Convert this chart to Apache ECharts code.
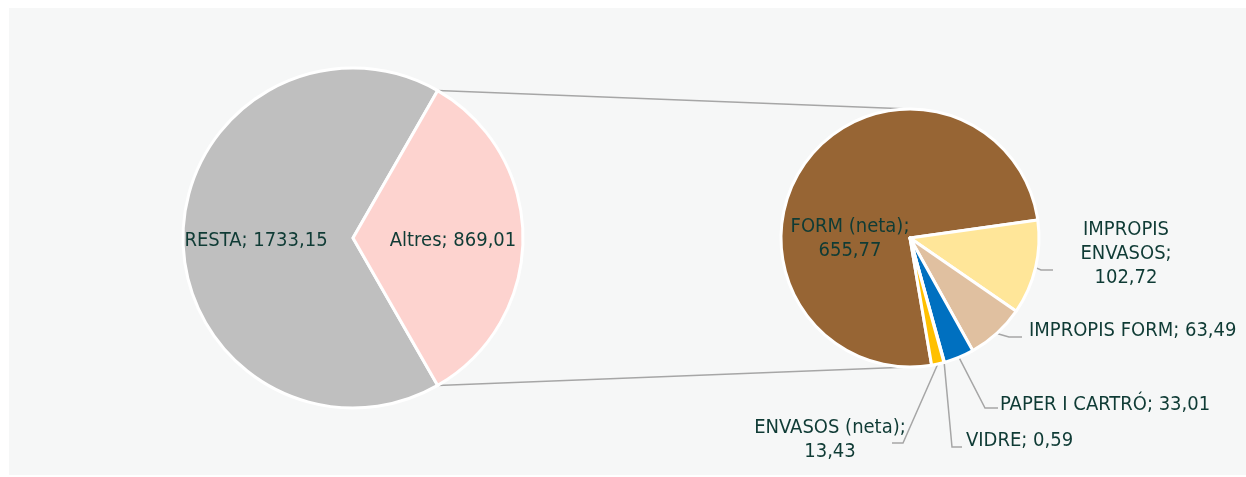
<!DOCTYPE html>
<html>
<head>
<meta charset="utf-8">
<script src="https://cdn.jsdelivr.net/npm/echarts@6/dist/echarts.min.js"></script>
<style>
  html, body { margin: 0; padding: 0; background: #ffffff; }
  #chart { width: 1246px; height: 477px; }
</style>
</head>
<body>
<div id="chart"></div>
<script>
// main pie
const mainNames = ['RESTA', 'Altres'];
const mainValues = [1733.15, 869.01];

// breakdown of "Altres"
const detailNames = ['FORM (neta)', 'IMPROPIS ENVASOS', 'IMPROPIS FORM', 'PAPER I CARTRÓ', 'VIDRE', 'ENVASOS (neta)'];
const detailValues = [655.77, 102.72, 63.49, 33.01, 0.59, 13.43];

const textColor = '#0f3b35';
const fontFamily = '"Liberation Sans Narrow", "DejaVu Sans Condensed", "Liberation Sans", sans-serif';
const fontSize = 20;

const mainCenter = [353, 238];
const mainRadius = 170;
const detailCenter = [910, 238];
const detailRadius = 129;
const detailTopAngle = 8; // end of FORM slice, degrees above horizontal

const mainColors = ['#bfbfbf', '#fdd3cf'];
const detailColors = ['#976534', '#ffe699', '#e0c0a0', '#0070c0', '#70ad47', '#ffc000'];

// label placement for the detail pie (label centre / anchor and leader bends)
const detailLabelPos = [
    { x: 850, y: 239, align: 'center' },
    { x: 1126, y: 254, align: 'center', line: [[1041, 270], [1053, 270]] },
    { x: 1029, y: 331, align: 'left', line: [[1009, 337], [1022, 337]] },
    { x: 1000, y: 405, align: 'left', line: [[985, 408], [998, 408]] },
    { x: 966, y: 441, align: 'left', line: [[952, 447], [962, 447]] },
    { x: 830, y: 440, align: 'center', line: [[903, 443], [892, 443]] }
];
const mainLabelShift = [-9, 12];

function fmt(v) {
    return v.toFixed(2).replace('.', ',');
}

function detailLabel(name, value) {
    if (name === 'IMPROPIS ENVASOS') return 'IMPROPIS\nENVASOS;\n' + fmt(value);
    if (name.indexOf('(neta)') >= 0) return name + ';\n' + fmt(value);
    return name + '; ' + fmt(value);
}

const mainTotal = mainValues.reduce((a, b) => a + b, 0);
const detailTotal = detailValues.reduce((a, b) => a + b, 0);
const altresHalf = mainValues[1] / mainTotal * 180;
const detailStart = detailTopAngle + detailValues[0] / detailTotal * 360;

// connector lines between the "Altres" slice and the detail pie
const rad = altresHalf * Math.PI / 180;
const topFrom = [mainCenter[0] + mainRadius * Math.cos(rad), mainCenter[1] - mainRadius * Math.sin(rad)];
const botFrom = [mainCenter[0] + mainRadius * Math.cos(rad), mainCenter[1] + mainRadius * Math.sin(rad)];
const topTo = [detailCenter[0], detailCenter[1] - detailRadius];
const botTo = [detailCenter[0], detailCenter[1] + detailRadius];

const chart = echarts.init(document.getElementById('chart'));

const option = {
    animation: false,
    backgroundColor: '#ffffff',
    graphic: [
        { type: 'rect', z: -10, shape: { x: 9, y: 8, width: 1237, height: 467 }, style: { fill: '#f6f7f7' } },
        { type: 'line', z: 1, shape: { x1: topFrom[0], y1: topFrom[1], x2: topTo[0], y2: topTo[1] }, style: { stroke: '#a6a6a6', lineWidth: 1.5 } },
        { type: 'line', z: 1, shape: { x1: botFrom[0], y1: botFrom[1], x2: botTo[0], y2: botTo[1] }, style: { stroke: '#a6a6a6', lineWidth: 1.5 } }
    ],
    series: [
        {
            type: 'pie',
            z: 3,
            center: mainCenter,
            radius: mainRadius,
            startAngle: 360 - altresHalf,
            clockwise: true,
            avoidLabelOverlap: false,
            itemStyle: { borderColor: '#ffffff', borderWidth: 3 },
            label: {
                position: 'inside',
                color: textColor,
                fontFamily: fontFamily,
                fontSize: fontSize,
                formatter: p => p.name + '; ' + fmt(p.value)
            },
            labelLine: { show: false },
            labelLayout: p => ({ dx: mainLabelShift[p.dataIndex], dy: 3 }),
            emphasis: { disabled: true },
            data: mainNames.map((n, i) => ({ name: n, value: mainValues[i], itemStyle: { color: mainColors[i] } }))
        },
        {
            type: 'pie',
            z: 3,
            center: detailCenter,
            radius: detailRadius,
            startAngle: detailStart,
            clockwise: true,
            avoidLabelOverlap: false,
            itemStyle: { borderColor: '#ffffff', borderWidth: 3 },
            label: {
                position: 'outside',
                color: textColor,
                fontFamily: fontFamily,
                fontSize: fontSize,
                lineHeight: 24,
                formatter: p => detailLabel(p.name, p.value)
            },
            labelLine: { show: true, length: 8, length2: 10, lineStyle: { color: '#a6a6a6', width: 1.5 } },
            labelLayout: function (p) {
                const pos = detailLabelPos[p.dataIndex];
                const res = { x: pos.x, y: pos.y, align: pos.align, verticalAlign: 'middle' };
                if (pos.line && p.labelLinePoints) {
                    res.labelLinePoints = [p.labelLinePoints[0], pos.line[0], pos.line[1]];
                }
                return res;
            },
            emphasis: { disabled: true },
            data: detailNames.map((n, i) => ({
                name: n,
                value: detailValues[i],
                itemStyle: { color: detailColors[i] },
                label: i === 0 ? { position: 'inside' } : undefined,
                labelLine: i === 0 ? { show: false } : undefined
            }))
        }
    ]
};

chart.setOption(option);
</script>
</body>
</html>
